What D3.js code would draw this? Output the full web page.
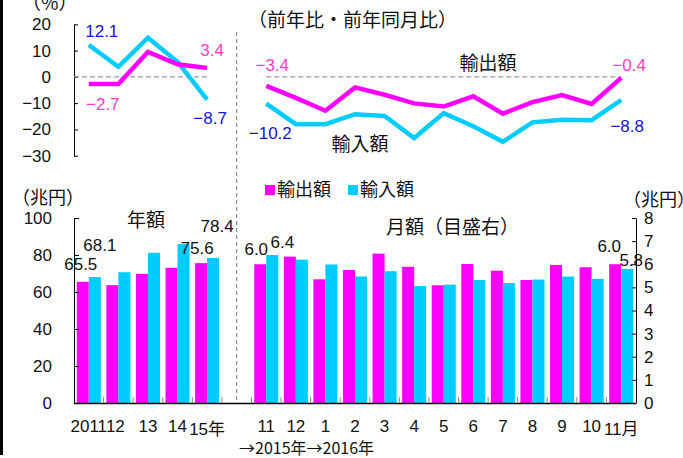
<!DOCTYPE html>
<html>
<head>
<meta charset="utf-8">
<script src="https://cdn.jsdelivr.net/npm/d3@7"></script>
<style>
  body { margin: 0; background: #fff; }
  svg { display: block; }
  text { font-family: "Liberation Sans", "Noto Sans CJK JP", sans-serif; fill: #111; }
  .jp { font-family: "Noto Sans CJK JP", sans-serif; }
</style>
</head>
<body>
<svg id="chart" width="683" height="458"></svg>
<script>
// annual data (calendar years)
let years = ["2011", "12", "13", "14", "15年"];
let yearExpAmt = [65.5, 63.7, 69.8, 73.1, 75.6];   // 兆円
let yearImpAmt = [68.1, 70.7, 81.2, 85.9, 78.4];
let yearExpPct = [-2.7, -2.7, 9.5, 4.8, 3.4];      // 前年比 %
let yearImpPct = [12.1, 3.8, 14.9, 5.7, -8.7];

// monthly data (2015/11 .. 2016/11)
let months = ["11", "12", "1", "2", "3", "4", "5", "6", "7", "8", "9", "10", "11月"];
let monthExpAmt = [6.0, 6.33, 5.35, 5.75, 6.46, 5.89, 5.09, 6.01, 5.72, 5.32, 5.97, 5.87, 6.0];
let monthImpAmt = [6.4, 6.2, 5.99, 5.47, 5.70, 5.06, 5.12, 5.32, 5.19, 5.34, 5.47, 5.37, 5.8];
let monthExpPct = [-3.4, -8.0, -12.9, -4.0, -6.8, -10.1, -11.3, -7.4, -14.0, -9.6, -6.9, -10.3, -0.4];
let monthImpPct = [-10.2, -18.0, -18.0, -14.2, -14.9, -23.3, -13.8, -18.8, -24.7, -17.3, -16.3, -16.5, -8.8];

let pctTicks = [20, 10, 0, -10, -20, -30];
let leftTicks = [0, 20, 40, 60, 80, 100];
let rightTicks = [0, 1, 2, 3, 4, 5, 6, 7, 8];

const MAG = "#ff00ff", CYAN = "#00ccff", PINK = "#ff3cc8", BLUE = "#1414d2";
const fmt = v => (v < 0 ? "\u2212" : "") + Math.abs(v).toFixed(1);

let svg = d3.select("#chart");

// slot keys: 5 years, a gap, 13 months
let yKeys = years.map((d, i) => "y" + i);
let mKeys = months.map((d, i) => "m" + i);
let slots = yKeys.concat(["gap"]).concat(mKeys);

let x = d3.scaleBand().domain(slots).range([74, 636]);
let bw = x.bandwidth();
let sub = d3.scaleBand().domain(["exp", "imp"]).range([0, bw]).paddingOuter(0.23);
let cx = k => x(k) + bw / 2;

let yPct = d3.scaleLinear().domain([-30, 20]).range([155.7, 24.3]);
let yLeft = d3.scaleLinear().domain([0, 100]).range([403, 218]);
let yRight = d3.scaleLinear().domain([0, 8]).range([403, 218]);

// left frame line
svg.append("rect").attr("x", 0).attr("y", 0).attr("width", 3).attr("height", 455).attr("fill", "#000");

// separator
svg.append("line")
  .attr("x1", x("gap") + bw / 2).attr("x2", x("gap") + bw / 2)
  .attr("y1", 32).attr("y2", 403)
  .attr("stroke", "#777").attr("stroke-width", 1).attr("stroke-dasharray", "4,3");

// ---------- top: growth rates ----------
let pctAxis = d3.axisLeft(yPct).tickValues(pctTicks).tickSizeInner(-4).tickSizeOuter(0).tickPadding(23)
  .tickFormat(d => d < 0 ? "\u2212" + Math.abs(d) : d);
let gp = svg.append("g").attr("transform", "translate(74,0)").call(pctAxis);
gp.select(".domain").attr("stroke", "#000");
gp.selectAll(".tick line").attr("stroke", "#000");
gp.selectAll("text").style("font-size", "17px").attr("fill", "#111");

// zero lines
svg.append("line").attr("x1", 74).attr("x2", cx(yKeys[4]))
  .attr("y1", yPct(0)).attr("y2", yPct(0))
  .attr("stroke", "#999").attr("stroke-width", 1.2).attr("stroke-dasharray", "5,3");
svg.append("line").attr("x1", cx(mKeys[0])).attr("x2", cx(mKeys[12]))
  .attr("y1", yPct(0)).attr("y2", yPct(0))
  .attr("stroke", "#999").attr("stroke-width", 1.2).attr("stroke-dasharray", "5,3");

let line = d3.line().x(d => d[0]).y(d => yPct(d[1]));
function drawLine(keys, vals, color) {
  svg.append("path")
    .datum(keys.map((k, i) => [cx(k), vals[i]]))
    .attr("d", line)
    .attr("fill", "none").attr("stroke", color).attr("stroke-width", 4.5)
    .attr("stroke-linejoin", "miter");
}
drawLine(yKeys, yearImpPct, CYAN);
drawLine(yKeys, yearExpPct, MAG);
drawLine(mKeys, monthImpPct, CYAN);
drawLine(mKeys, monthExpPct, MAG);

// end-point labels [key, value, color, dx, dy]
let pctLabels = [
  [yKeys[0], yearImpPct[0], BLUE, 13, -14],
  [yKeys[0], yearExpPct[0], PINK, 14, 20],
  [yKeys[4], yearExpPct[4], PINK, 5, -18],
  [yKeys[4], yearImpPct[4], BLUE, 3, 18],
  [mKeys[0], monthExpPct[0], PINK, 6, -21],
  [mKeys[0], monthImpPct[0], BLUE, 4, 29],
  [mKeys[12], monthExpPct[12], PINK, 8, -13],
  [mKeys[12], monthImpPct[12], BLUE, 6, 26]
];
svg.selectAll(".pctlab").data(pctLabels).enter().append("text")
  .attr("x", d => cx(d[0]) + d[3])
  .attr("y", d => yPct(d[1]) + d[4])
  .attr("dy", "0.35em").attr("text-anchor", "middle")
  .style("font-size", "17px").style("fill", d => d[2])
  .text(d => fmt(d[1]));

svg.append("text").attr("class", "jp").attr("x", 22).attr("y", 10)
  .style("font-size", "19px").text("（%）");
svg.append("text").attr("class", "jp").attr("x", 248).attr("y", 27)
  .style("font-size", "19px").text("（前年比・前年同月比）");
svg.append("text").attr("class", "jp").attr("x", 488).attr("y", 63).attr("dy", "0.35em")
  .attr("text-anchor", "middle").style("font-size", "19px").text("輸出額");
svg.append("text").attr("class", "jp").attr("x", 360).attr("y", 144).attr("dy", "0.35em")
  .attr("text-anchor", "middle").style("font-size", "19px").text("輸入額");

// ---------- bottom: amounts ----------
function drawBars(keys, exp, imp, y) {
  keys.forEach((k, i) => {
    [["exp", exp[i], MAG], ["imp", imp[i], CYAN]].forEach(s => {
      svg.append("rect")
        .attr("x", x(k) + sub(s[0]))
        .attr("y", y(s[1]))
        .attr("width", sub.bandwidth())
        .attr("height", y(0) - y(s[1]))
        .attr("fill", s[2]);
    });
  });
}
drawBars(yKeys, yearExpAmt, yearImpAmt, yLeft);
drawBars(mKeys, monthExpAmt, monthImpAmt, yRight);

// left axis
let leftAxis = d3.axisLeft(yLeft).tickValues(leftTicks).tickSizeInner(-5).tickSizeOuter(0).tickPadding(22);
let gl = svg.append("g").attr("transform", "translate(74,0)").call(leftAxis);
gl.select(".domain").attr("stroke", "#000");
gl.selectAll(".tick line").attr("stroke", "#000");
gl.selectAll("text").style("font-size", "17px").attr("fill", "#111");

// right axis
let rightAxis = d3.axisRight(yRight).tickValues(rightTicks).tickSizeInner(-4).tickSizeOuter(0).tickPadding(8);
let gr = svg.append("g").attr("transform", "translate(636,0)").call(rightAxis);
gr.select(".domain").attr("stroke", "#000");
gr.selectAll(".tick line").attr("stroke", "#000");
gr.selectAll("text").style("font-size", "17px").attr("fill", "#111");

// baseline + category ticks
svg.append("line").attr("x1", 74).attr("x2", 636).attr("y1", 403.5).attr("y2", 403.5)
  .attr("stroke", "#000").attr("stroke-width", 1.5);
svg.selectAll(".ctick").data(slots.slice(1)).enter().append("line")
  .attr("x1", d => x(d)).attr("x2", d => x(d))
  .attr("y1", 403).attr("y2", 397)
  .attr("stroke", "#888").attr("stroke-width", 1);

// category labels
let catY = 426;
svg.selectAll(".ylab").data(years).enter().append("text")
  .attr("x", (d, i) => cx(yKeys[i]) + (i === 1 ? -3 : 0))
  .attr("y", (d, i) => catY + (i === 4 ? 3 : 0)).attr("dy", "0.35em")
  .attr("text-anchor", "middle").style("font-size", "17px")
  .text(d => d);
svg.selectAll(".mlab").data(months).enter().append("text")
  .attr("x", (d, i) => cx(mKeys[i]))
  .attr("y", (d, i) => catY + (i === 12 ? 3 : 0)).attr("dy", "0.35em")
  .attr("text-anchor", "middle").style("font-size", "17px")
  .text(d => d);
svg.append("text").attr("class", "jp").attr("x", 239).attr("y", 448).attr("dy", "0.35em")
  .style("font-size", "16px").text("→2015年→2016年");

// value labels [key, series, value, scale, dx, dy]
let amtLabels = [
  [yKeys[0], "exp", yearExpAmt[0], yLeft, -2, -18],
  [yKeys[0], "imp", yearImpAmt[0], yLeft, 5, -32],
  [yKeys[4], "exp", yearExpAmt[4], yLeft, -4, -15],
  [yKeys[4], "imp", yearImpAmt[4], yLeft, 4, -32],
  [mKeys[0], "exp", monthExpAmt[0], yRight, -4, -15],
  [mKeys[0], "imp", monthImpAmt[0], yRight, 10, -13],
  [mKeys[12], "exp", monthExpAmt[12], yRight, -6, -18],
  [mKeys[12], "imp", monthImpAmt[12], yRight, 4, -9]
];
svg.selectAll(".amtlab").data(amtLabels).enter().append("text")
  .attr("x", d => x(d[0]) + sub(d[1]) + sub.bandwidth() / 2 + d[4])
  .attr("y", d => d[3](d[2]) + d[5]).attr("dy", "0.35em")
  .attr("text-anchor", "middle").style("font-size", "17px")
  .text(d => d[2].toFixed(1));

// titles and units
svg.append("text").attr("class", "jp").attr("x", 12).attr("y", 198).attr("dy", "0.35em")
  .style("font-size", "18px").text("（兆円）");
svg.append("text").attr("class", "jp").attr("x", 146).attr("y", 220).attr("dy", "0.35em")
  .attr("text-anchor", "middle").style("font-size", "19px").text("年額");
svg.append("text").attr("class", "jp").attr("x", 386).attr("y", 227).attr("dy", "0.35em")
  .style("font-size", "19px").text("月額（目盛右）");
svg.append("text").attr("class", "jp").attr("x", 623).attr("y", 200).attr("dy", "0.35em")
  .style("font-size", "18px").text("（兆円）");

// legend
let legend = [["輸出額", MAG, 265], ["輸入額", CYAN, 348]];
legend.forEach(l => {
  svg.append("rect").attr("x", l[2]).attr("y", 185).attr("width", 10).attr("height", 10).attr("fill", l[1]);
  svg.append("text").attr("class", "jp").attr("x", l[2] + 12).attr("y", 190).attr("dy", "0.35em")
    .style("font-size", "18px").text(l[0]);
});
</script>
</body>
</html>
